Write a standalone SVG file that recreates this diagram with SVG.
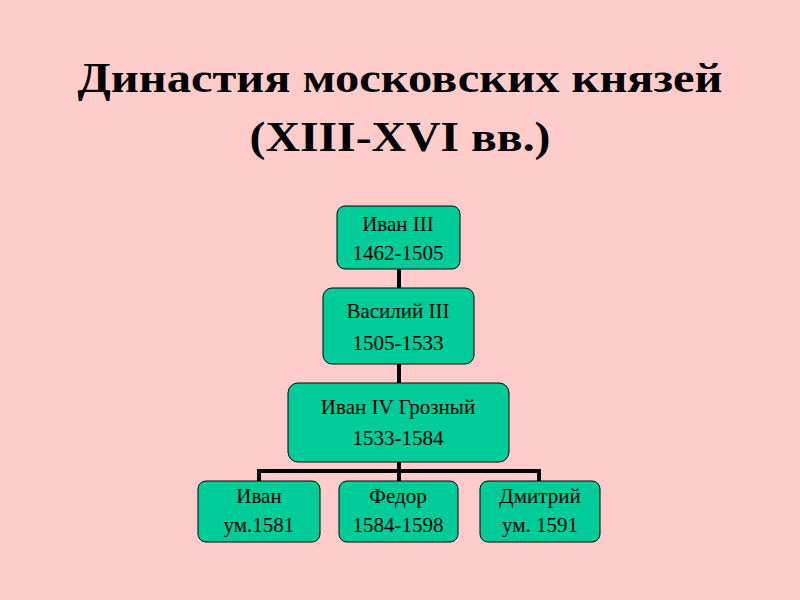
<svg xmlns="http://www.w3.org/2000/svg" width="800" height="600" viewBox="0 0 800 600">
<style>
.t{font-family:"Liberation Serif",serif;font-weight:bold;font-size:42px;fill:#000;text-anchor:middle}
.n rect{fill:#00CC99;stroke:#000;stroke-width:1}
.n text{font-family:"Liberation Serif",serif;font-size:21px;fill:#000;text-anchor:middle}
.c{stroke:#000;stroke-width:4;fill:none}
</style>
<rect width="800" height="600" fill="#FFCCCC"/>
<text class="t" x="400" y="92" textLength="645" lengthAdjust="spacingAndGlyphs">Династия московских князей</text>
<text class="t" x="400" y="151" textLength="301" lengthAdjust="spacingAndGlyphs">(XIII-XVI вв.)</text>
<g id="connectors">
<path class="c" d="M399 269V288M399 364V383M399 462V481M259 471H539M259 469V481M539 469V481"/>
</g>
<g id="n1" class="n"><rect x="337" y="206" width="123" height="63" rx="8"/><text x="398" y="231">Иван III</text><text x="398" y="260">1462-1505</text></g>
<g id="n2" class="n"><rect x="323" y="288" width="151" height="76" rx="9"/><text x="398" y="318">Василий III</text><text x="398" y="350">1505-1533</text></g>
<g id="n3" class="n"><rect x="288" y="383" width="221" height="79" rx="10"/><text x="398" y="414">Иван IV Грозный</text><text x="398" y="445">1533-1584</text></g>
<g id="n4" class="n"><rect x="198" y="481" width="122" height="61" rx="8"/><text x="259" y="503">Иван</text><text x="259" y="532">ум.1581</text></g>
<g id="n5" class="n"><rect x="339" y="481" width="119" height="61" rx="8"/><text x="398" y="503">Федор</text><text x="398" y="532">1584-1598</text></g>
<g id="n6" class="n"><rect x="480" y="481" width="120" height="61" rx="8"/><text x="540" y="503">Дмитрий</text><text x="540" y="532">ум. 1591</text></g>
</svg>
